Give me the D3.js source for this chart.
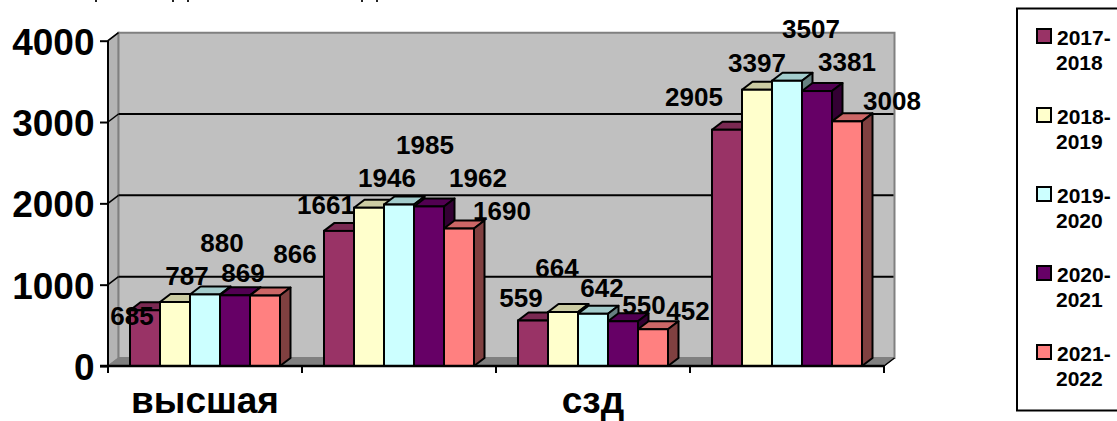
<!DOCTYPE html>
<html><head><meta charset="utf-8">
<script src="https://cdn.jsdelivr.net/npm/d3@7/dist/d3.min.js"></script>
<style>html,body{margin:0;padding:0;background:#fff;overflow:hidden}svg{display:block}text{font-family:"Liberation Sans",Arial,sans-serif;font-weight:700;fill:#000}</style>
</head><body><svg id="c" width="1117" height="421"></svg>
<script>
const categories = ["высшая", "", "сзд", ""];
const seriesNames = ["2017-2018", "2018-2019", "2019-2020", "2020-2021", "2021-2022"];
const s2017 = [685, 1661, 559, 2905];
const s2018 = [787, 1946, 664, 3397];
const s2019 = [880, 1985, 642, 3507];
const s2020 = [869, 1962, 550, 3381];
const s2021 = [866, 1690, 452, 3008];
const seriesValues = [s2017, s2018, s2019, s2020, s2021];
const yTicks = [0, 1000, 2000, 3000, 4000];
const colors = ["#993366", "#FFFFCC", "#CCFFFF", "#660066", "#FF8080"];
const topColors = ["#7a2952", "#cccca3", "#a3cccc", "#520052", "#cc6666"];
const sideColors = ["#4d1933", "#808066", "#668080", "#330033", "#804040"];

// label nudges relative to the top centre of each bar [series][category]
const labelDx = [[-13,-13,-12,-33],[12,18,-6,0],[17,26,9,24],[8,49,21,30],[30,43,35,45]];
const labelDy = [[5,-26,-23,-33],[-26,-30,-44,-27],[-52,-60,-26,-52],[-23,-29,-17,-29],[-42,-18,-19,-21]];
// feet of a title line that the reference's top edge cuts off
const cutTitleFeet = [96, 173, 188, 362, 377];

const svg = d3.select("#c");
const x0 = 108, x1 = 884, yB = 366, yT = 40.7, dX = 10.5, dY = 8;
const xScale = d3.scaleBand().domain(d3.range(categories.length)).range([x0, x1]).paddingInner(0).paddingOuter(0);
const y = d3.scaleLinear().domain([0, 4000]).range([yB, yT]);
const barX = d3.scaleBand().domain(d3.range(seriesNames.length)).range([22, 172]);

svg.append("g").selectAll("rect").data(cutTitleFeet).join("rect")
  .attr("x", d => d - 1).attr("y", 0).attr("width", 2).attr("height", 2).attr("fill", "#222");

// side wall, back wall, floor
const poly = (pts, fill, stroke, sw) => svg.append("path").attr("d", "M" + pts.map(p => p.join(",")).join("L") + "Z").attr("fill", fill).attr("stroke", stroke || "none").attr("stroke-width", sw || 0);
poly([[x0, yB], [x0 + dX, yB - dY], [x0 + dX, yT - dY], [x0, yT]], "#b4b4b4", "#808080", 1.5);
poly([[x0 + dX, yT - dY], [x1 + dX, yT - dY], [x1 + dX, yB - dY], [x0 + dX, yB - dY]], "#C0C0C0", "#808080", 2);
poly([[x0, yB], [x1, yB], [x1 + dX, yB - dY], [x0 + dX, yB - dY]], "#808080", "#808080", 1);

// gridlines
svg.append("g").selectAll("line").data(yTicks.slice(1, 4)).join("line")
  .attr("x1", x0 + dX).attr("x2", x1 + dX - 1).attr("y1", d => y(d) - dY).attr("y2", d => y(d) - dY)
  .attr("stroke", "#000").attr("stroke-width", 2);
svg.append("g").selectAll("line").data(yTicks.slice(1)).join("line")
  .attr("x1", x0).attr("x2", x0 + dX).attr("y1", d => y(d)).attr("y2", d => y(d) - dY)
  .attr("stroke", "#000").attr("stroke-width", 1.5);

// bars
seriesValues.forEach((vals, s) => {
  const g = svg.append("g");
  vals.forEach((v, c) => {
    const bx = xScale(c) + barX(s), w = barX.bandwidth(), ty = y(v);
    const st = "#000";
    g.append("path").attr("d", `M${bx},${ty}L${bx + dX},${ty - dY}L${bx + w + dX},${ty - dY}L${bx + w},${ty}Z`).attr("fill", topColors[s]).attr("stroke", st).attr("stroke-width", 2).attr("stroke-linejoin", "round");
    g.append("path").attr("d", `M${bx + w},${ty}L${bx + w + dX},${ty - dY}L${bx + w + dX},${yB - dY}L${bx + w},${yB}Z`).attr("fill", sideColors[s]).attr("stroke", st).attr("stroke-width", 2).attr("stroke-linejoin", "round");
    g.append("rect").attr("x", bx).attr("y", ty).attr("width", w).attr("height", yB - ty).attr("fill", colors[s]).attr("stroke", st).attr("stroke-width", 2);
  });
});

// axes
const axisY = d3.axisLeft(y).tickValues(yTicks).tickFormat(d3.format("d")).tickSize(8).tickPadding(5.5);
const gy = svg.append("g").attr("transform", `translate(${x0},0)`).call(axisY);
gy.selectAll(".tick line").attr("stroke", "#000").attr("stroke-width", 2);
gy.select(".domain").attr("stroke", "#000").attr("stroke-width", 2).attr("d", `M0,${yT}V${yB}`);
gy.selectAll("text").style("font-size", "37px").attr("fill", "#000").attr("dy", "0.36em");

const tickEdges = d3.range(categories.length + 1).map(i => x0 + i * xScale.step());
svg.append("line").attr("x1", x0 - 8).attr("x2", x1).attr("y1", yB).attr("y2", yB).attr("stroke", "#000").attr("stroke-width", 2.5);
svg.append("g").selectAll("line").data(tickEdges).join("line")
  .attr("x1", d => d).attr("x2", d => d).attr("y1", yB).attr("y2", yB + 7).attr("stroke", "#000").attr("stroke-width", 2);
poly([[x1, yB], [x1 + dX, yB - dY]], "none", "#000", 1.5);

svg.append("g").selectAll("text").data(categories).join("text")
  .attr("x", (d, i) => xScale(i) + 97).attr("y", 413).attr("text-anchor", "middle").style("font-size", "37px").text(d => d);

// data labels
const lab = svg.append("g");
seriesValues.forEach((vals, s) => vals.forEach((v, c) => {
  lab.append("text")
    .attr("x", xScale(c) + barX(s) + barX.bandwidth() / 2 + labelDx[s][c])
    .attr("y", y(v) + labelDy[s][c]).attr("dy", "0.36em")
    .attr("text-anchor", "middle").style("font-size", "26px").text(v);
}));

// legend
svg.append("rect").attr("x", 1017).attr("y", 8.5).attr("width", 120).attr("height", 402).attr("fill", "#fff").attr("stroke", "#000").attr("stroke-width", 2);
const legY = d3.scalePoint().domain(seriesNames).range([29, 345]);
seriesNames.forEach((n, i) => {
  const [a, b] = n.split("-");
  const g = svg.append("g").attr("transform", `translate(0,${legY(n)})`);
  g.append("rect").attr("x", 1037).attr("y", 0).attr("width", 14).attr("height", 14).attr("fill", colors[i]).attr("stroke", "#000").attr("stroke-width", 2);
  g.append("text").attr("x", 1057).attr("y", 15.5).style("font-size", "21px").text(a + "-");
  g.append("text").attr("x", 1056).attr("y", 40.5).style("font-size", "21px").text(b);
});
</script></body></html>
